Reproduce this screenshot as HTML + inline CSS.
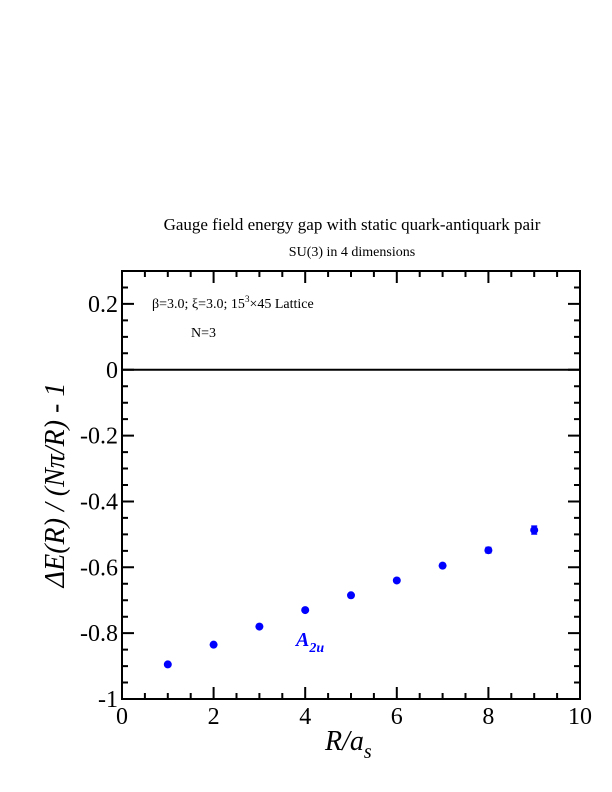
<!DOCTYPE html>
<html><head><meta charset="utf-8"><style>body{margin:0;background:#fff}svg{display:block}</style></head>
<body>
<svg id="chart" width="612" height="792" viewBox="0 0 612 792" font-family="'Liberation Serif', serif">
<text x="352" y="230" font-size="17" text-anchor="middle">Gauge field energy gap with static quark-antiquark pair</text>
<text x="352" y="256" font-size="14" text-anchor="middle">SU(3) in 4 dimensions</text>
<g id="axes"></g>
<g id="marks"></g>
<text x="152" y="308" font-size="14">β=3.0;  ξ=3.0;  15<tspan dy="-6" font-size="9">3</tspan><tspan dy="6">×45 Lattice</tspan></text>
<text x="191" y="337" font-size="14">N=3</text>
<text x="296" y="646" font-size="20" font-style="italic" font-weight="bold" fill="#0000ff">A<tspan dy="6" font-size="14">2u</tspan></text>
<text x="325" y="750" font-size="28" font-style="italic">R/a<tspan dy="8" font-size="20">s</tspan></text>
<text transform="translate(64,485) rotate(-90)" font-size="28" font-style="italic" text-anchor="middle">ΔE(R) / (Nπ/R) - 1</text>
</svg>
<script>
const categories=[1,2,3,4,5,6,7,8,9];
const values=[-0.895,-0.835,-0.78,-0.73,-0.685,-0.64,-0.595,-0.548,-0.487];
const errors=[0.003,0.003,0.004,0.004,0.004,0.005,0.006,0.008,0.012];
const xTicks=[0,2,4,6,8,10];
const yTicks=[-1,-0.8,-0.6,-0.4,-0.2,0,0.2];
const yTickLabels=["-1","-0.8","-0.6","-0.4","-0.2","0","0.2"];
const L=122,R=580,T=271,B=699,xmin=0,xmax=10,ymin=-1,ymax=0.3;
const X=v=>L+(v-xmin)/(xmax-xmin)*(R-L);
const Y=v=>B-(v-ymin)/(ymax-ymin)*(B-T);
const NS="http://www.w3.org/2000/svg";
function mk(t,a,p){const e=document.createElementNS(NS,t);for(const k in a)e.setAttribute(k,a[k]);p.appendChild(e);return e;}
const ax=document.getElementById('axes'),mg=document.getElementById('marks');
const fr=mk('rect',{x:L,y:T,width:R-L,height:B-T,fill:'none',stroke:'#000','stroke-width':2},ax);


const zl=mk('line',{x1:L,x2:R,y1:Y(0),y2:Y(0),stroke:'#000','stroke-width':2},ax);


for(let i=0;i<=20;i++){const v=i*0.5,x=X(v),len=(i%4==0)?12:6;
 const t=mk('path',{d:`M${x},${B}v${-len}M${x},${T}v${len}`,stroke:'#000','stroke-width':2},ax);
 
 }
for(let i=0;i<=26;i++){const v=-1+i*0.05,y=Y(v),len=(i%4==0)?12:6;
 const t=mk('path',{d:`M${L},${y}h${len}M${R},${y}h${-len}`,stroke:'#000','stroke-width':2},ax);
 
 }
xTicks.forEach(v=>{const t=mk('text',{x:X(v),y:B+25,'font-size':24,'text-anchor':'middle'},ax);t.textContent=v;
 
 });
yTicks.forEach((v,i)=>{const t=mk('text',{x:L-4,y:Y(v)+8,'font-size':24,'text-anchor':'end'},ax);t.textContent=yTickLabels[i];
 
 });
categories.forEach((c,i)=>{const x=X(c),y=Y(values[i]),e=errors[i];
 const eb=mk('path',{d:`M${x},${Y(values[i]+e)}V${Y(values[i]-e)}M${x-3},${Y(values[i]+e)}h6M${x-3},${Y(values[i]-e)}h6`,stroke:'#0000ff','stroke-width':1.5},mg);
 
 
 const p=mk('circle',{cx:x,cy:y,r:4,fill:'#0000ff'},mg);
 
 });
</script>
</body></html>
